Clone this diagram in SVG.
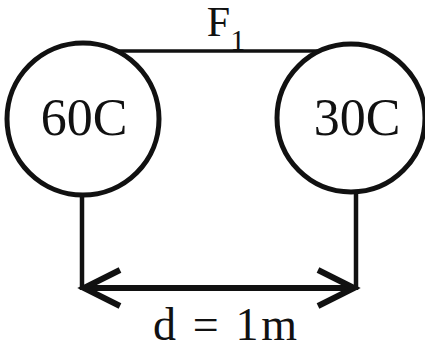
<svg xmlns="http://www.w3.org/2000/svg" width="425" height="351" viewBox="0 0 425 351">
  <style>
    .ball { fill: #ffffff; stroke: #111111; stroke-width: 5; }
    .lbl { font-family: "Liberation Serif", "Times New Roman", serif; fill: #111111; text-anchor: middle; }
    .wire { stroke: #111111; fill: none; }
  </style>
  <defs>
    <marker id="chev" markerUnits="userSpaceOnUse" viewBox="-44 -24 50 48" markerWidth="50" markerHeight="48" refX="0" refY="0" orient="auto-start-reverse" overflow="visible">
      <path d="M-36,-18 L0,0 L-36,18" fill="none" stroke="#111111" stroke-width="6" stroke-linejoin="miter"/>
    </marker>
  </defs>
  <rect width="425" height="351" fill="#ffffff"/>
  <g id="connectors">
    <line class="wire" x1="100" y1="51" x2="330" y2="51" stroke-width="3.5"/>
    <line class="wire" x1="82" y1="190" x2="82" y2="290" stroke-width="4.5"/>
    <line class="wire" x1="356" y1="190" x2="356" y2="290" stroke-width="4.5"/>
    <line class="wire" x1="84" y1="288" x2="354" y2="288" stroke-width="6" marker-start="url(#chev)" marker-end="url(#chev)"/>
  </g>
  <g id="charge60">
    <circle class="ball" cx="83" cy="119" r="76"/>
    <text class="lbl" x="84" y="135" font-size="52">60C</text>
  </g>
  <g id="charge30">
    <circle class="ball" cx="351" cy="118" r="74"/>
    <text class="lbl" x="357" y="135" font-size="52">30C</text>
  </g>
  <g id="force">
    <text class="lbl" x="226" y="36" font-size="42">F<tspan font-size="30" dy="14">1</tspan></text>
  </g>
  <g id="distance">
    <text class="lbl" x="225" y="340" font-size="46" textLength="144" lengthAdjust="spacing">d = 1m</text>
  </g>
</svg>
